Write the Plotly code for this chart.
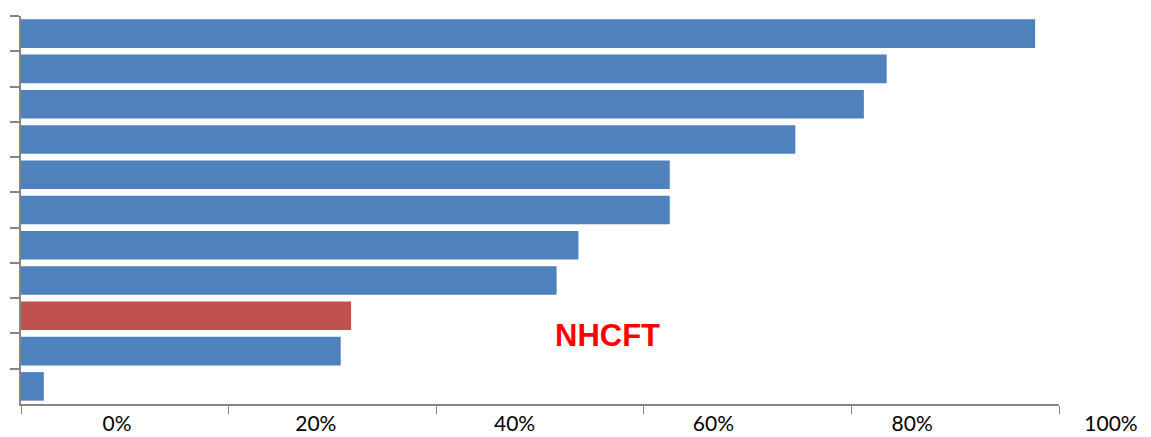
import plotly.graph_objects as go

# Data (top to bottom as displayed)
categories = ["Org 1", "Org 2", "Org 3", "Org 4", "Org 5", "Org 6",
              "Org 7", "Org 8", "NHCFT", "Org 10", "Org 11"]
values = [97.7, 83.4, 81.2, 74.6, 62.5, 62.5, 53.7, 51.6, 31.8, 30.8, 2.2]
highlight = "NHCFT"
tick_values = [0, 20, 40, 60, 80, 100]
tick_labels = ["0%", "20%", "40%", "60%", "80%", "100%"]

BLUE = "#4F81BD"
RED = "#C0504D"
AXIS = "#868686"

colors = [RED if c == highlight else BLUE for c in categories]

fig = go.Figure()
fig.add_trace(go.Bar(
    x=values, y=categories, orientation="h",
    marker=dict(color=colors, line=dict(width=0)),
    hoverinfo="x+y", showlegend=False,
))
# invisible trace to activate the label axis
fig.add_trace(go.Scatter(x=[0], y=[categories[0]], xaxis="x2", mode="markers",
                         marker=dict(opacity=0), hoverinfo="skip", showlegend=False))

L, W = 21, 1151
plot_w = W - L
main_end = 1059
px_per = 9.94
lab0 = 117
fig.update_layout(
    width=1151, height=437,
    margin=dict(l=L, r=0, t=16, b=33),
    paper_bgcolor="white", plot_bgcolor="rgba(0,0,0,0)",
    bargap=0.19,
    font=dict(family="Lato, Calibri, sans-serif", color="#000000"),
    xaxis=dict(
        domain=[0, (main_end - L) / plot_w],
        range=[0, 100], tickvals=tick_values, showticklabels=False,
        ticks="outside", ticklen=8, tickcolor=AXIS, tickwidth=1,
        showline=True, linecolor=AXIS, linewidth=1.5,
        showgrid=False, zeroline=False, automargin=False,
    ),
    xaxis2=dict(
        anchor="y", side="bottom",
        domain=[0, 1],
        range=[-(lab0 - L) / px_per, -(lab0 - L) / px_per + plot_w / px_per],
        tickvals=tick_values, ticktext=tick_labels,
        ticks="", showline=False, showgrid=False, zeroline=False,
        tickfont=dict(size=21, color="#000000"),
        ticklabelstandoff=5, automargin=False,
    ),
    yaxis=dict(
        type="category", categoryorder="array", categoryarray=categories,
        range=[10.5, -0.5], tickson="boundaries",
        showticklabels=False, ticks="outside", ticklen=9, tickcolor=AXIS, tickwidth=1.5,
        showline=True, linecolor=AXIS, linewidth=1.5,
        showgrid=False, zeroline=False, automargin=False,
    ),
    annotations=[dict(
        x=56.5, y=8.55, xref="x", yref="y", text="<b>NHCFT</b>",
        showarrow=False, font=dict(family="Liberation Sans, Arial", size=31, color="#FF0000"),
        xanchor="center", yanchor="middle",
    )],
)

fig.write_html("out.html")
